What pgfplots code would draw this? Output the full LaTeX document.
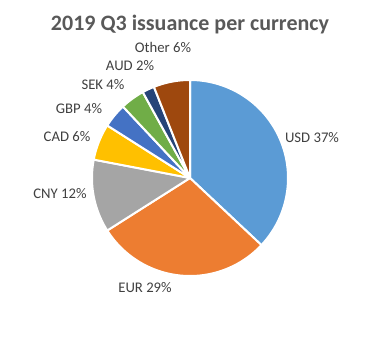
\documentclass[border=0pt]{standalone}
\usepackage{pgfplots}
\usepackage{pgfplotstable}
\pgfplotsset{compat=1.18}
\usepackage{fontspec}
\setmainfont{Carlito}
\definecolor{cUSD}{HTML}{5B9BD5}
\definecolor{cEUR}{HTML}{ED7D31}
\definecolor{cCNY}{HTML}{A5A5A5}
\definecolor{cCAD}{HTML}{FFC000}
\definecolor{cGBP}{HTML}{4472C4}
\definecolor{cSEK}{HTML}{70AD47}
\definecolor{cAUD}{HTML}{264478}
\definecolor{cOther}{HTML}{9E480E}
\definecolor{titlegray}{HTML}{595959}
\definecolor{labelgray}{HTML}{404040}
% name, share (%), colour, label centre (in pie radii from the centre)
\pgfplotstableread{
name  value color  lx      ly
USD   37    cUSD   1.2449  0.4082
EUR   29    cEUR  -0.4592 -1.1224
CNY   12    cCNY  -1.3265 -0.1633
CAD   6     cCAD  -1.2551  0.4184
GBP   4     cGBP  -1.1327  0.7041
SEK   4     cSEK  -0.8878  0.9490
AUD   2     cAUD  -0.6122  1.1429
Other 6     cOther -0.2755 1.3367
}\piedata
\begin{document}
\begin{tikzpicture}
\begin{axis}[
  width=387bp, height=348bp, scale only axis,
  xmin=-1.93878, xmax=2.01020,
  ymin=-1.73469, ymax=1.81633,
  hide axis, clip=false,
]
\path (rel axis cs:0,0) rectangle (rel axis cs:1,1);
\pgfplotstablegetrowsof{\piedata}
\pgfmathtruncatemacro\N{\pgfplotsretval-1}
\def\cum{0}
\pgfplotsforeachungrouped \i in {0,...,\N}{%
  \pgfplotstablegetelem{\i}{value}\of\piedata \let\v\pgfplotsretval
  \pgfplotstablegetelem{\i}{color}\of\piedata \let\c\pgfplotsretval
  \pgfplotstablegetelem{\i}{name}\of\piedata \let\nm\pgfplotsretval
  \pgfplotstablegetelem{\i}{lx}\of\piedata \let\lx\pgfplotsretval
  \pgfplotstablegetelem{\i}{ly}\of\piedata \let\ly\pgfplotsretval
  \pgfmathsetmacro\a{90-3.6*\cum}%
  \pgfmathsetmacro\b{90-3.6*(\cum+\v)}%
  \edef\temp{\noexpand\addplot[fill=\c, draw=white, line width=2bp, line join=round, domain=\b:\a, samples=90, variable=\noexpand\t] ({cos(\noexpand\t)},{sin(\noexpand\t)}) -- (axis cs:0,0) -- cycle;
  \noexpand\node[text=labelgray, font=\noexpand\fontsize{14.7bp}{17bp}\noexpand\selectfont] at (axis cs:\lx,\ly) {\nm\space\v\noexpand\%};}%
  \temp
  \pgfmathsetmacro\cum{\cum+\v}%
}
\node[text=titlegray, font=\fontsize{22bp}{26bp}\selectfont\bfseries] at (axis cs:0,1.5612) {2019 Q3 issuance per currency};
\end{axis}
\end{tikzpicture}
\end{document}
